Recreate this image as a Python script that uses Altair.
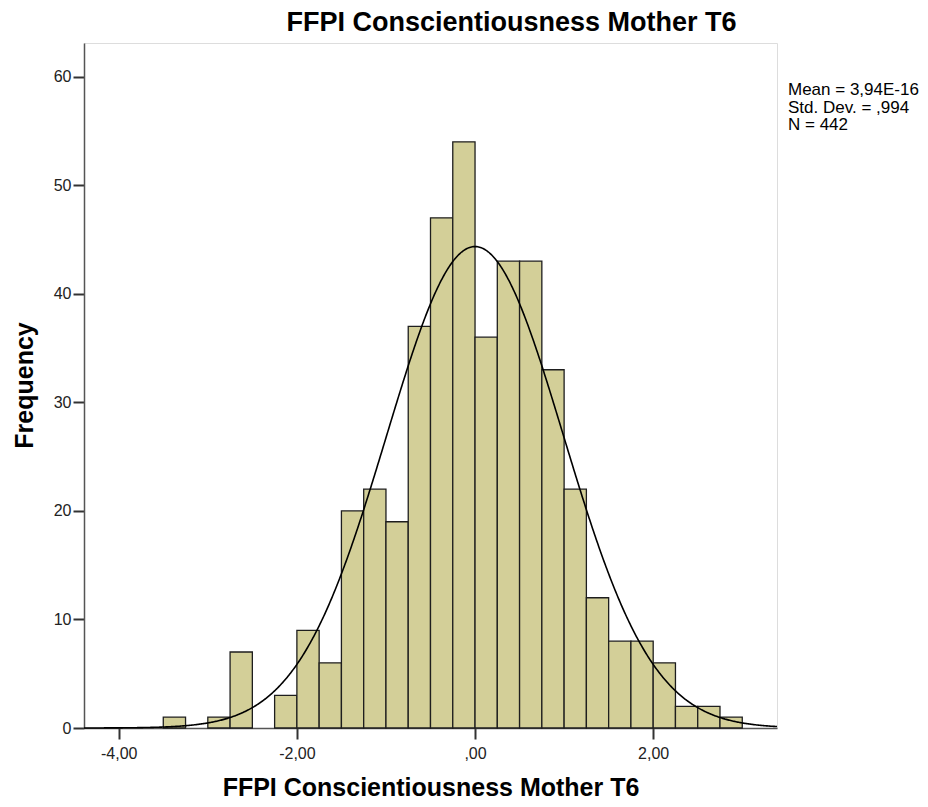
import altair as alt
import pandas as pd

# ---- data ----
bin_start = [-3.50, -3.00, -2.75, -2.25, -2.00, -1.75, -1.50, -1.25, -1.00, -0.75,
             -0.50, -0.25, 0.00, 0.25, 0.50, 0.75, 1.00, 1.25, 1.50, 1.75,
             2.00, 2.25, 2.50, 2.75]
counts = [1, 1, 7, 3, 9, 6, 20, 22, 19, 37,
          47, 54, 36, 43, 43, 33, 22, 12, 8, 8,
          6, 2, 2, 1]
bin_width = 0.25

mean_val = 3.94e-16
sd_val = 0.994
n_val = 442
stats_lines = ["Mean = 3,94E-16", "Std. Dev. = ,994", "N = 442"]

x_ticks = [-4, -2, 0, 2]
x_tick_labels = ["-4,00", "-2,00", ",00", "2,00"]
y_ticks = [0, 10, 20, 30, 40, 50, 60]

title_text = "FFPI Conscientiousness Mother T6"
x_title = "FFPI Conscientiousness Mother T6"
y_title = "Frequency"

x_domain = [-4.39, 3.39]
y_domain = [0, 63.1]

FONT = "Liberation Sans"
W, H = 693, 685

hist = pd.DataFrame({
    "start": bin_start,
    "end": [b + bin_width for b in bin_start],
    "count": counts,
})

label_expr = "''"
for v, lab in zip(reversed(x_ticks), reversed(x_tick_labels)):
    label_expr = f"datum.value == {v} ? '{lab}' : ({label_expr})"

x_scale = alt.Scale(domain=x_domain, nice=False, zero=False)
y_scale = alt.Scale(domain=y_domain, nice=False, zero=False)

x_axis = alt.Axis(
    title=x_title, values=x_ticks, labelExpr=label_expr, grid=False,
    labelFont=FONT, labelFontSize=16, labelColor="#222", labelPadding=6,
    tickSize=11, tickWidth=2, tickColor="#333",
    domainColor="#555", domainWidth=1.5,
    titleFont=FONT, titleFontSize=25, titleFontWeight="bold", titleColor="#000",
    titleY=67, titleBaseline="alphabetic",
)
y_axis = alt.Axis(
    title=y_title, values=y_ticks, grid=False,
    labelFont=FONT, labelFontSize=16, labelColor="#222", labelPadding=2,
    tickSize=11, tickWidth=2, tickColor="#333",
    domainColor="#555", domainWidth=1.5,
    titleFont=FONT, titleFontSize=25, titleFontWeight="bold", titleColor="#000",
    titleAngle=-90, titleX=-52, titleY=342, titleAlign="center",
    titleBaseline="alphabetic",
)

bars = alt.Chart(hist).mark_rect(
    fill="#d3cf98", stroke="#1e1e1e", strokeWidth=1.3
).encode(
    x=alt.X("start:Q", scale=x_scale, axis=x_axis),
    x2="end:Q",
    y=alt.Y("count:Q", scale=y_scale, axis=y_axis),
    y2=alt.datum(0),
)

curve = alt.Chart(alt.sequence(x_domain[0], x_domain[1] + 0.005, 0.01, as_="x")).transform_calculate(
    y=f"{n_val} * {bin_width} * exp(-0.5 * pow((datum.x - {mean_val}) / {sd_val}, 2)) / ({sd_val} * sqrt(2 * PI))"
).mark_line(color="#000", strokeWidth=1.6).encode(
    x=alt.X("x:Q", scale=x_scale),
    y=alt.Y("y:Q", scale=y_scale),
)

stats = alt.Chart(pd.DataFrame({"t": ["\n".join(stats_lines)]})).mark_text(
    align="left", baseline="alphabetic", font=FONT, fontSize=17,
    lineBreak="\n", lineHeight=17.5, color="#000",
).encode(
    text="t:N",
    x=alt.value(W + 11),
    y=alt.value(52),
)

chart = alt.layer(bars, curve, stats).properties(
    width=W, height=H,
    title=alt.TitleParams(
        text=title_text, font=FONT, fontSize=27, fontWeight="bold", color="#000",
        anchor="middle", dx=81, offset=6,
    ),
    autosize=alt.AutoSizeParams(type="none"),
    padding={"left": 76, "top": 35, "right": 143, "bottom": 72},
).configure_view(
    fill="#f0f0f0", stroke=None,
).configure(background="#ffffff")

chart.save("out.html", embed_options={"renderer": "svg", "actions": False})
